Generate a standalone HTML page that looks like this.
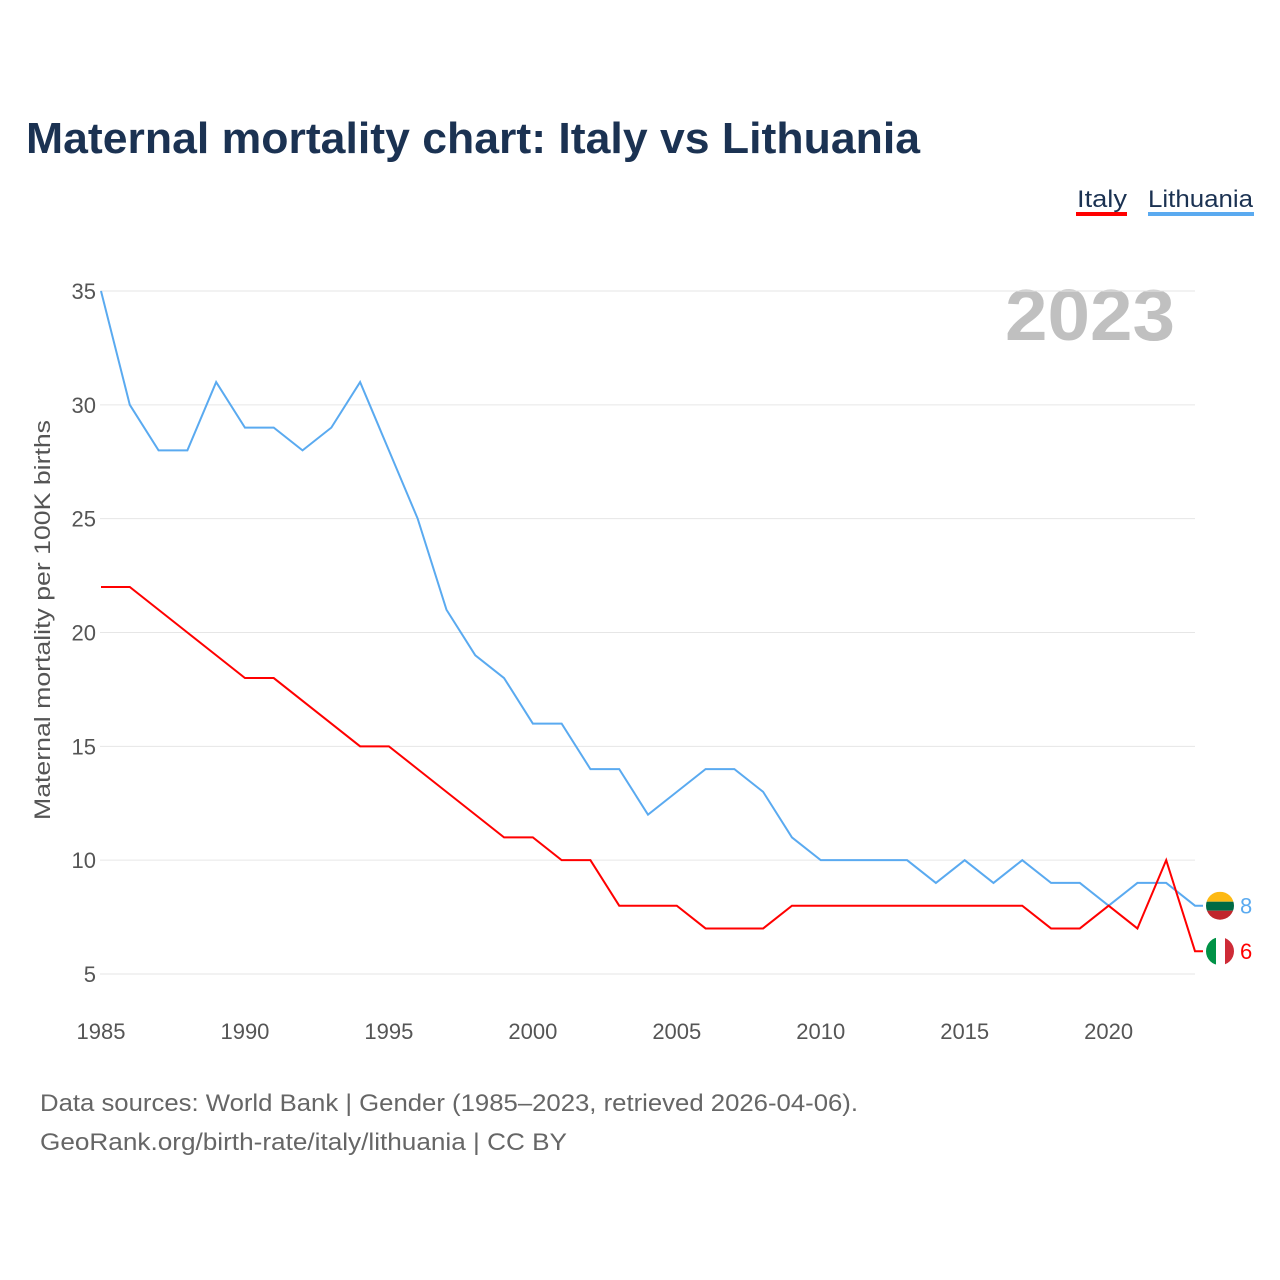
<!DOCTYPE html>
<html><head><meta charset="utf-8">
<style>
body{margin:0;background:#fff;font-family:"Liberation Sans",sans-serif;}
#wrap{position:relative;width:1280px;height:1280px;overflow:hidden;}
</style></head>
<body>
<div id="wrap">
<svg id="chart" width="1280" height="1280">
<text x="26" y="153" font-size="44" font-weight="bold" fill="#1b3252" textLength="894" lengthAdjust="spacingAndGlyphs">Maternal mortality chart: Italy vs Lithuania</text>
<g>
<text x="1077" y="207" font-size="24" fill="#1b3252" textLength="50" lengthAdjust="spacingAndGlyphs">Italy</text>
<rect x="1076" y="212" width="51" height="4" fill="#ff0000"/>
</g>
<g>
<text x="1148" y="207" font-size="24" fill="#1b3252" textLength="105" lengthAdjust="spacingAndGlyphs">Lithuania</text>
<rect x="1148" y="212" width="106" height="4" fill="#5aaaf0"/>
</g>
<text x="1175" y="340" font-size="72" font-weight="bold" fill="#c0c0c0" text-anchor="end" textLength="170" lengthAdjust="spacingAndGlyphs">2023</text>
<text transform="translate(50,620) rotate(-90)" font-size="22" fill="#555" text-anchor="middle" textLength="400" lengthAdjust="spacingAndGlyphs">Maternal mortality per 100K births</text>
<g id="grid"></g><g id="lines"></g>
<text x="40" y="1111" font-size="24" fill="#666" textLength="818" lengthAdjust="spacingAndGlyphs">Data sources: World Bank | Gender (1985–2023, retrieved 2026-04-06).</text>
<text x="40" y="1150" font-size="24" fill="#666" textLength="527" lengthAdjust="spacingAndGlyphs">GeoRank.org/birth-rate/italy/lithuania | CC BY</text>
</svg>
</div>
<script>
const years=[];for(let y=1985;y<=2023;y++)years.push(y);
const lithuania=[35,30,28,28,31,29,29,28,29,31,28,25,21,19,18,16,16,14,14,12,13,14,14,13,11,10,10,10,10,9,10,9,10,9,9,8,9,9,8];
const italy=[22,22,21,20,19,18,18,17,16,15,15,14,13,12,11,11,10,10,8,8,8,7,7,7,8,8,8,8,8,8,8,8,8,7,7,8,7,10,6];
const yTicks=[5,10,15,20,25,30,35];
const xTicks=[1985,1990,1995,2000,2005,2010,2015,2020];
const NS="http://www.w3.org/2000/svg";
const X=y=>101+(y-1985)*(1195-101)/38;
const Y=v=>974-(v-5)*(974-291)/30;
function mk(t,a,p){const e=document.createElementNS(NS,t);for(const k in a)e.setAttribute(k,a[k]);p.appendChild(e);return e;}
const g=document.getElementById('grid');
yTicks.forEach(v=>{
 const l=mk('line',{x1:100,x2:1195,y1:Y(v),y2:Y(v),stroke:'#e6e6e6','stroke-width':1},g);
 
 
 const t=mk('text',{x:96,y:Y(v)+8,'font-size':22,fill:'#555','text-anchor':'end'},g);
 t.textContent=v;
 
 
});
xTicks.forEach(v=>{
 const t=mk('text',{x:X(v),y:1039,'font-size':22,fill:'#555','text-anchor':'middle'},g);
 t.textContent=v;
 
 
});
const L=document.getElementById('lines');
function series(data,color,name,flag){
 const last=data[data.length-1];const cy=Y(last);
 const pts=data.map((v,i)=>X(years[i])+','+Y(v)).join(' ')+' '+(X(2023)+8)+','+cy;
 const p=mk('polyline',{points:pts,fill:'none',stroke:color,'stroke-width':2},L);
 
 
 const gg=mk('g',{},L);
 
 
 const cid='c'+name;
 const cp=mk('clipPath',{id:cid},gg);mk('circle',{cx:1220,cy:cy,r:14},cp);
 const fg=mk('g',{'clip-path':'url(#'+cid+')'},gg);
 if(flag==='lt'){mk('rect',{x:1206,y:cy-14,width:28,height:10,fill:'#fdb913'},fg);mk('rect',{x:1206,y:cy-4,width:28,height:9,fill:'#006a44'},fg);mk('rect',{x:1206,y:cy+5,width:28,height:10,fill:'#c1272d'},fg);}
 else{mk('rect',{x:1206,y:cy-14,width:10,height:28,fill:'#009246'},fg);mk('rect',{x:1216,y:cy-14,width:9,height:28,fill:'#fff'},fg);mk('rect',{x:1225,y:cy-14,width:10,height:28,fill:'#ce2b37'},fg);}
 const t=mk('text',{x:1240,y:cy+8,'font-size':22,fill:color},L);
 t.textContent=last;
 
 
}
series(lithuania,'#5aaaf0','lithuania','lt');
series(italy,'#ff0000','italy','it');
</script>
</body></html>
